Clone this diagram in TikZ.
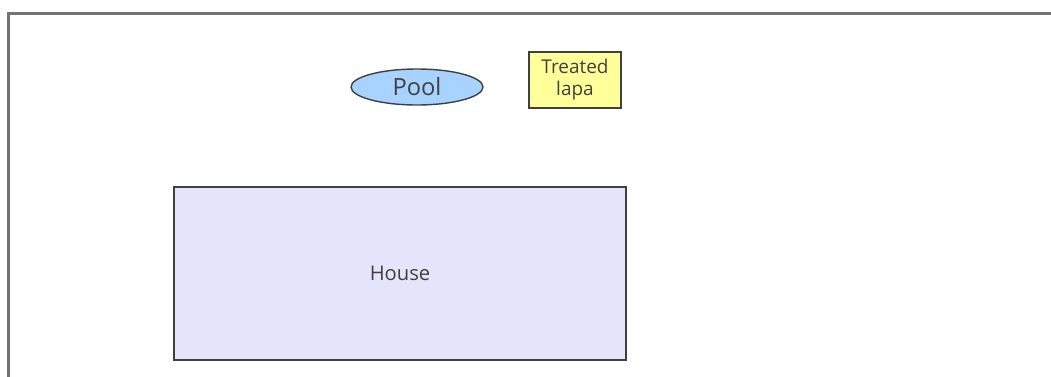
\documentclass[tikz,border=0pt]{standalone}
\usepackage{fontspec}
\setmainfont{Open Sans}
\usetikzlibrary{shapes.geometric}

\definecolor{poolblue}{RGB}{168,210,255}
\definecolor{lapayellow}{RGB}{255,255,153}
\definecolor{houselilac}{RGB}{228,228,250}

\begin{document}
\begin{tikzpicture}[x=0.02cm,y=-0.02cm]
% ---------------------------------------------------------
% Dimensions (pixel grid of the plan)
% ---------------------------------------------------------
\def\PlanW{1051}    % total width
\def\PlanH{376}     % total height
\def\FrameX{8.5}    % left edge of the site frame
\def\FrameY{13.5}   % top edge of the site frame

% ---------------------------------------------------------
% Styles
% ---------------------------------------------------------
\tikzset{
  site frame/.style={draw=black!55, line width=1.3pt},
  plan text/.style={text=black!75, font=\fontsize{11.5}{13}\selectfont},
  pool style/.style={ellipse, draw=black!75, line width=0.8pt, fill=poolblue,
    minimum width=2.64cm, minimum height=0.72cm, inner sep=0pt,
    plan text, font=\fontsize{13.5}{15}\selectfont},
  lapa style/.style={rectangle, draw=black!75, line width=0.8pt, fill=lapayellow,
    minimum width=1.84cm, minimum height=1.12cm, inner sep=0pt, align=center,
    plan text, font=\fontsize{10.8}{12.5}\selectfont},
  house style/.style={rectangle, draw=black!75, line width=0.9pt, fill=houselilac,
    minimum width=9.04cm, minimum height=3.46cm, inner sep=0pt, plan text}
}

\useasboundingbox (0,0) rectangle (\PlanW,\PlanH);

% =========================================================
% 1) SITE FRAME (only top and left edges show)
% =========================================================
\draw[site frame] (\FrameX,\PlanH+5) -- (\FrameX,\FrameY) -- (\PlanW+5,\FrameY);

% =========================================================
% 2) FEATURES
% =========================================================
\node[pool style]  (pool)  at (417,87)    {Pool};
\node[lapa style]  (lapa)  at (575,80)    {Treated\\lapa};
\node[house style] (house) at (400,273.5) {House};

\end{tikzpicture}
\end{document}
